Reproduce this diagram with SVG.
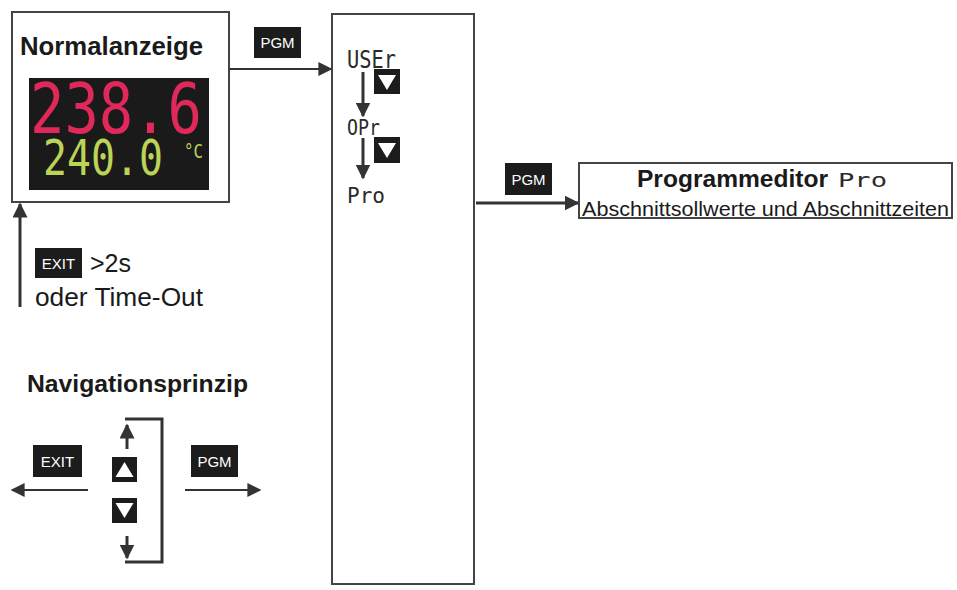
<svg xmlns="http://www.w3.org/2000/svg" width="957" height="590" viewBox="0 0 957 590">
<defs>
<style>
.box{fill:#fff;stroke:#444;stroke-width:2}
.key{fill:#1c1c1c}
.keyt{fill:#fff;font-family:"Liberation Sans",Arial,sans-serif;font-size:15px}
.tri{fill:#fff}
.t{font-family:"Liberation Sans",Arial,sans-serif;fill:#1a1a1a}
.b{font-weight:bold}
.seg{font-family:"DejaVu Sans Mono","Liberation Mono",monospace;fill:#2a2a2a}
.ln{stroke:#333;stroke-width:2;fill:none}
.lnb{stroke:#333;stroke-width:3;fill:none}
</style>
<marker id="ah" viewBox="0 0 10 10" refX="9" refY="5" markerWidth="7" markerHeight="7" orient="auto" markerUnits="strokeWidth"><path d="M0,0 L10,5 L0,10 z" fill="#333"/></marker>
<marker id="ahb" viewBox="0 0 10 10" refX="9" refY="5" markerWidth="5" markerHeight="5" orient="auto" markerUnits="strokeWidth"><path d="M0,0 L10,5 L0,10 z" fill="#333"/></marker>
</defs>
<rect width="957" height="590" fill="#fff"/>

<g id="normalanzeige">
<rect class="box" x="12" y="12" width="217" height="190"/>
<text class="t b" x="20" y="55" font-size="25" textLength="183" lengthAdjust="spacingAndGlyphs">Normalanzeige</text>
<rect x="29" y="78" width="180" height="112" fill="#1a1a1a"/>
<text x="30" y="133" font-family="DejaVu Sans Mono,monospace" font-size="70" fill="#e0285a" textLength="172" lengthAdjust="spacingAndGlyphs">238.6</text>
<text x="43" y="175" font-family="DejaVu Sans Mono,monospace" font-size="50" fill="#bcd456" textLength="120" lengthAdjust="spacingAndGlyphs">240.0</text>
<text x="184" y="158" font-family="DejaVu Sans Mono,monospace" font-size="20" fill="#bcd456" textLength="19" lengthAdjust="spacingAndGlyphs">°C</text>
</g>

<g id="pgm1">
<rect class="key" x="254" y="27" width="47" height="31"/>
<text class="keyt" x="277.5" y="48" text-anchor="middle">PGM</text>
</g>

<g id="menu">
<rect class="box" x="332" y="14" width="142" height="570"/>
<text class="seg" x="347" y="68" font-size="24" textLength="49" lengthAdjust="spacingAndGlyphs">USEr</text>
<rect class="key" x="374" y="69" width="26" height="25"/>
<path class="tri" d="M378,75 L396,75 L387,90 z"/>
<text class="seg" x="347" y="135" font-size="22" textLength="33" lengthAdjust="spacingAndGlyphs">OPr</text>
<rect class="key" x="374" y="137" width="26" height="26"/>
<path class="tri" d="M378,143 L396,143 L387,158 z"/>
<text class="seg" x="347" y="203" font-size="22" textLength="38" lengthAdjust="spacingAndGlyphs">Pro</text>
</g>

<g id="pgm2">
<rect class="key" x="505" y="163" width="47" height="32"/>
<text class="keyt" x="528.5" y="185" text-anchor="middle">PGM</text>
</g>

<g id="programmeditor">
<rect class="box" x="579" y="163" width="373" height="55"/>
<text class="t b" x="637" y="187" font-size="23" textLength="191" lengthAdjust="spacingAndGlyphs">Programmeditor</text>
<text class="seg" x="838" y="187" font-size="20" textLength="49" lengthAdjust="spacingAndGlyphs">Pro</text>
<text class="t" x="582" y="216" font-size="21" textLength="367" lengthAdjust="spacingAndGlyphs">Abschnittsollwerte und Abschnittzeiten</text>
</g>

<g id="exit-timeout">
<rect class="key" x="35" y="248" width="47" height="30"/>
<text class="keyt" x="58.5" y="269" text-anchor="middle">EXIT</text>
<text class="t" x="90" y="272" font-size="25">&gt;2s</text>
<text class="t" x="35" y="306" font-size="25" textLength="168" lengthAdjust="spacingAndGlyphs">oder Time-Out</text>
</g>

<g id="navigationsprinzip">
<text class="t b" x="27" y="392" font-size="24.5" textLength="221" lengthAdjust="spacingAndGlyphs">Navigationsprinzip</text>
<rect class="key" x="33" y="445" width="49" height="32"/>
<text class="keyt" x="57.5" y="467" text-anchor="middle">EXIT</text>
<rect class="key" x="191" y="445" width="47" height="32"/>
<text class="keyt" x="214.5" y="467" text-anchor="middle">PGM</text>
<rect class="key" x="112" y="457" width="25" height="25"/>
<path class="tri" d="M115.5,477 L133.5,477 L124.5,462 z"/>
<rect class="key" x="112" y="498" width="25" height="25"/>
<path class="tri" d="M115.5,503 L133.5,503 L124.5,518 z"/>
</g>

<g id="connectors">
<line class="ln" x1="229" y1="69" x2="331" y2="69" marker-end="url(#ah)"/>
<line class="lnb" x1="20" y1="307" x2="20" y2="204" marker-end="url(#ahb)"/>
<line class="lnb" x1="363" y1="72" x2="363" y2="116" marker-end="url(#ahb)"/>
<line class="lnb" x1="363" y1="138" x2="363" y2="178" marker-end="url(#ahb)"/>
<line class="lnb" x1="476" y1="203" x2="578" y2="203" marker-end="url(#ahb)"/>
<line class="ln" x1="88" y1="490" x2="12" y2="490" marker-end="url(#ah)"/>
<line class="ln" x1="185" y1="490" x2="260" y2="490" marker-end="url(#ah)"/>
<path class="lnb" d="M125,419 H162 V562 H125"/>
<line class="lnb" x1="127" y1="449" x2="127" y2="425" marker-end="url(#ahb)"/>
<line class="lnb" x1="127" y1="536" x2="127" y2="558" marker-end="url(#ahb)"/>
</g>
</svg>
